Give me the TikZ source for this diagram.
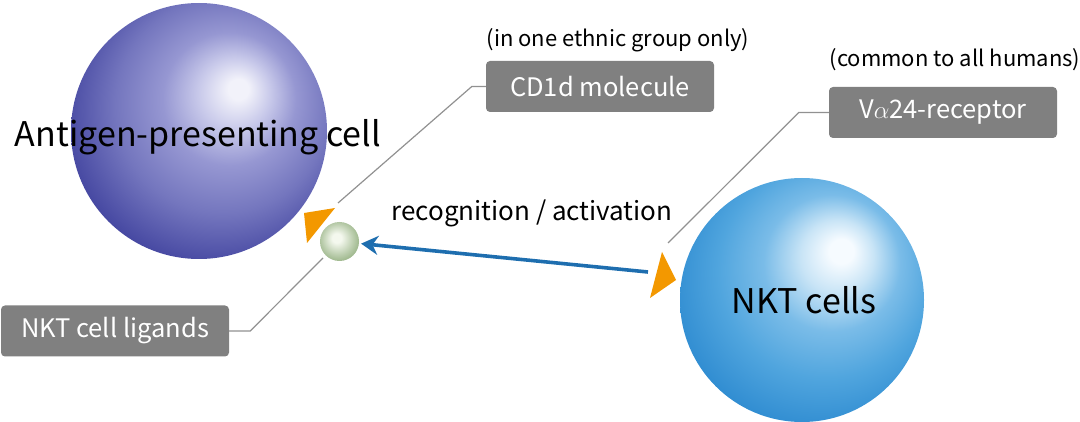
\documentclass[tikz,border=0pt]{standalone}
\usepackage{fontspec}
\setmainfont{Noto Sans CJK JP}
\usetikzlibrary{arrows.meta}
\definecolor{boxgray}{RGB}{128,128,128}
\definecolor{linegray}{RGB}{145,145,145}
\definecolor{tipor}{RGB}{243,152,0}
\definecolor{arrblue}{RGB}{30,110,175}
\definecolor{apcA}{RGB}{242,242,250}
\definecolor{apcB}{RGB}{200,201,234}
\definecolor{apcC}{RGB}{150,151,210}
\definecolor{apcD}{RGB}{116,118,190}
\definecolor{apcE}{RGB}{74,76,164}
\definecolor{apcF}{RGB}{48,51,146}
\definecolor{nktA}{RGB}{246,251,255}
\definecolor{nktB}{RGB}{200,228,246}
\definecolor{nktC}{RGB}{122,188,232}
\definecolor{nktD}{RGB}{80,165,222}
\definecolor{nktE}{RGB}{50,142,210}
\definecolor{nktF}{RGB}{30,122,195}
\definecolor{ligdark}{RGB}{140,170,120}
\definecolor{liglite}{RGB}{244,248,238}
\pgfdeclareradialshading{apcshade}{\pgfpoint{8bp}{8.5bp}}{color(0bp)=(apcA); color(2bp)=(apcA); color(7bp)=(apcB); color(13bp)=(apcC); color(21bp)=(apcD); color(29bp)=(apcE); color(34bp)=(apcF); color(50bp)=(apcF)}
\pgfdeclareradialshading{nktshade}{\pgfpoint{8.5bp}{10.5bp}}{color(0bp)=(nktA); color(2.5bp)=(nktA); color(7.5bp)=(nktB); color(14bp)=(nktC); color(22bp)=(nktD); color(30bp)=(nktE); color(35bp)=(nktF); color(50bp)=(nktF)}
\pgfdeclareradialshading{ligshade}{\pgfpoint{-4bp}{5bp}}{color(0bp)=(liglite); color(6bp)=(liglite); color(20bp)=(ligdark!55!liglite); color(32bp)=(ligdark); color(50bp)=(ligdark)}
\newcommand\graytag[4]{\node[graytag] (#1) at (#2,#3) {#4};}
\newcommand\cellball[5]{\node[circle, inner sep=0pt, minimum size=#4, shading=#5] (#1) at (#2,#3) {};}

\tikzset{
  graytag/.style={fill=boxgray, rounded corners=4pt, text=white, minimum width=228pt, minimum height=51pt, inner sep=0pt, font=\fontsize{25.5}{30}\selectfont},
  note/.style={inner sep=0pt, font=\fontsize{22}{26}\selectfont},
  bigname/.style={inner sep=0pt, font=\fontsize{34}{40}\selectfont},
  leader/.style={draw=linegray, line width=1.2pt},
  bluearrow/.style={draw=arrblue, line width=3.6pt, -{Stealth[length=17pt,width=19pt]}, shorten >=2pt}
}

\begin{document}
\begin{tikzpicture}[x=1pt,y=-1pt]
\useasboundingbox (0,0) rectangle (1080,422);

% cells
\cellball{apc}{199}{131}{256pt}{apcshade}
\cellball{nkt}{802}{300}{244pt}{nktshade}
\node[bigname] (apcname) at (198,137) {Antigen-presenting cell};
\node[bigname] (nktname) at (804,300) {NKT cells};

% orange tips
\coordinate (cdend) at (338,203);
\coordinate (vaend) at (668,243);
\coordinate (ligend) at (323,258);
\coordinate (nktarrow) at (648,272);
\fill[tipor] (304,213) -- (335,208) -- (307,243) -- cycle;
\fill[tipor] (662,252) -- (676,280) -- (650,298) -- cycle;

% ligand
\cellball{lig}{339.5}{241.5}{39pt}{ligshade}

% tags
\graytag{cdbox}{600}{86.5}{CD1d molecule}
\graytag{vabox}{943}{112.5}{V$\alpha$24-receptor}
\graytag{ligbox}{115}{331}{NKT cell ligands}
\node[note] (cdnote) at (618,40) {(in one ethnic group only)};
\node[note] (vanote) at (955,60) {(common to all humans)};
\node[note, font=\fontsize{26}{30}\selectfont] (recog) at (532,213) {recognition / activation};

% leaders
\draw[leader] (cdbox.west) -- ++(-14,0) -- (cdend);
\draw[leader] (vabox.west) -- ++(-30,0) -- (vaend);
\draw[leader] (ligbox.east) -- ++(21,0) -- (ligend);

\draw[bluearrow] (nktarrow) -- (lig);
\end{tikzpicture}
\end{document}
